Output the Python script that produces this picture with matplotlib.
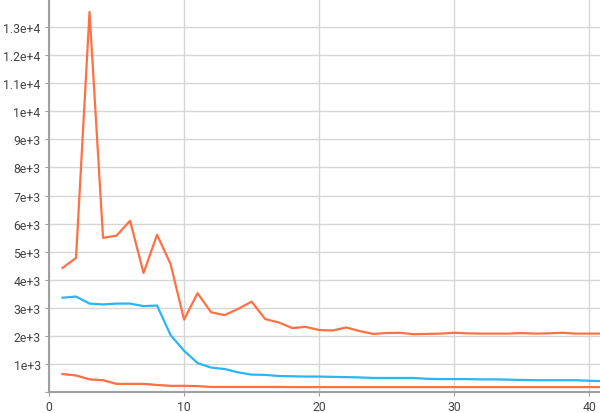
import matplotlib.pyplot as plt
from matplotlib.ticker import FuncFormatter

plt.rcParams['font.family'] = ['Roboto', 'DejaVu Sans']

steps = list(range(1, 42))

orange_top = [4420, 4780, 13540, 5490, 5570, 6100, 4240, 5600, 4560, 2580,
              3520, 2840, 2740, 2960, 3220, 2600, 2480, 2280, 2320, 2210,
              2190, 2300, 2170, 2070, 2100, 2110, 2060, 2070, 2080, 2110,
              2090, 2080, 2080, 2080, 2100, 2080, 2090, 2110, 2080, 2080, 2080]

blue = [3360, 3400, 3150, 3120, 3150, 3150, 3060, 3080, 2030, 1470,
        1030, 870, 820, 700, 620, 610, 570, 560, 550, 550,
        540, 530, 520, 500, 500, 500, 500, 470, 460, 460,
        460, 450, 450, 440, 430, 420, 420, 420, 420, 400, 390]

orange_low = [640, 590, 450, 420, 290, 290, 290, 250, 220, 220,
              210, 180, 180, 180, 180, 180, 180, 175, 175, 175,
              175, 175, 175, 175, 175, 175, 175, 175, 175, 175,
              175, 175, 175, 175, 175, 175, 175, 175, 175, 175, 175]

orange_c = '#ff7043'
blue_c = '#29b6f6'

def fmt(v, pos):
    if v == 0:
        return ''
    if v < 10000:
        return '%de+3' % round(v / 1000)
    s = '%g' % (v / 10000)
    return s + 'e+4'

fig = plt.figure(figsize=(6, 4.14), dpi=100)
ax = fig.add_axes([0.0817, 0.0507, 0.9183, 0.9493])

ax.plot(steps, orange_low, color='#bbbbbb', lw=1.2, alpha=0.6, zorder=2)
ax.plot(steps, orange_low, color=orange_c, lw=1.6, zorder=3)
ax.plot(steps, blue, color=blue_c, lw=1.6, zorder=3)
ax.plot(steps, orange_top, color=orange_c, lw=1.6, zorder=3)

ax.set_xlim(0, 40.8)
ax.set_ylim(0, 14000)
ax.set_xticks([0, 10, 20, 30, 40])
ax.set_yticks(range(0, 14000, 1000))
ax.yaxis.set_major_formatter(FuncFormatter(fmt))

ax.grid(True, color='#d6d6d6', lw=1)
ax.set_axisbelow(True)
for s in ['top', 'right']:
    ax.spines[s].set_visible(False)
for s in ['left', 'bottom']:
    ax.spines[s].set_color('#a0a0a0')
    ax.spines[s].set_linewidth(1.5)

ax.tick_params(colors='#a0a0a0', labelcolor='#444444', labelsize=8.8, length=3, pad=3)

fig.savefig('out.png', dpi=100)
